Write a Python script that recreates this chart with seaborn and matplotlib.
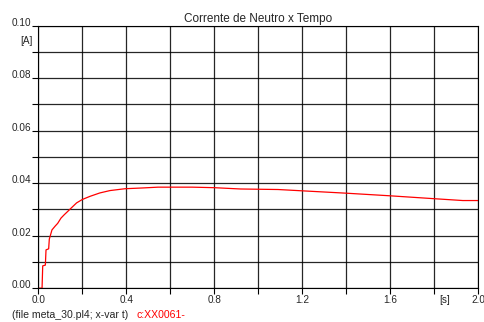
import matplotlib
matplotlib.use('Agg')
import matplotlib.pyplot as plt
import pandas as pd
import seaborn as sns

# tempo [s] e corrente de neutro [A]
tempo = [0.0, 0.017, 0.020, 0.032, 0.035, 0.047, 0.050, 0.062, 0.077, 0.088,
         0.103, 0.118, 0.133, 0.149, 0.174, 0.200, 0.235, 0.28, 0.326, 0.394,
         0.476, 0.544, 0.60, 0.70, 0.80, 0.92, 1.09, 1.20, 1.40, 1.60, 1.80, 1.93, 2.0]
corrente = [0.0, 0.0, 0.0085, 0.0088, 0.0146, 0.0150, 0.0187, 0.0222, 0.0237, 0.0247,
            0.0267, 0.0280, 0.0292, 0.0305, 0.0325, 0.0338, 0.0350, 0.0363, 0.0372, 0.0379,
            0.0382, 0.0385, 0.0385, 0.0385, 0.0383, 0.0378, 0.0376, 0.0371, 0.0362, 0.0352, 0.0341, 0.0334, 0.0334]

xticks = [0.0, 0.2, 0.4, 0.6, 0.8, 1.0, 1.2, 1.4, 1.6, 1.8, 2.0]
xlabels = ['0.0', '', '0.4', '', '0.8', '', '1.2', '', '1.6', '', '2.0']
yticks = [0.00, 0.01, 0.02, 0.03, 0.04, 0.05, 0.06, 0.07, 0.08, 0.09, 0.10]
ylabels = ['0.00', '', '0.02', '', '0.04', '', '0.06', '', '0.08', '', '0.10']

sns.set_style('white')
plt.rcParams['font.family'] = ['Liberation Sans', 'DejaVu Sans']

df = pd.DataFrame({'t': tempo, 'i': corrente})

fig = plt.figure(figsize=(4.85, 3.22), dpi=100)
ax = fig.add_axes([0.079, 0.105, 0.907, 0.815])
sns.lineplot(data=df, x='t', y='i', ax=ax, color='red', linewidth=0.9, sort=False)

ax.set_xlim(0, 2.0)
ax.set_ylim(0, 0.10)
ax.set_xticks(xticks)
ax.set_xticklabels(xlabels)
ax.set_yticks(yticks)
ax.set_yticklabels(ylabels)
ax.grid(True, color='black', linewidth=0.9, alpha=0.85)
ax.tick_params(axis='both', direction='out', length=4, width=0.8, color='black',
               labelsize=7.2, pad=1, left=True, bottom=True)
for lbl in ax.get_yticklabels():
    lbl.set_va('baseline')
for sp in ax.spines.values():
    sp.set_color('black')
    sp.set_linewidth(0.8)
ax.set_xlabel('')
ax.set_ylabel('')

ax.set_title('Corrente de Neutro x Tempo', fontsize=8.5, pad=3)
fig.text(26 / 485, 1 - 41 / 322, '[A]', fontsize=7.2, ha='center', va='center')
fig.text(445 / 485, 1 - 300 / 322, '[s]', fontsize=7.2, ha='center', va='center')
fig.text(12 / 485, 1 - 315 / 322, '(file meta_30.pl4; x-var t)', fontsize=7.6, ha='left', va='center')
fig.text(137 / 485, 1 - 315 / 322, 'c:XX0061-', fontsize=7.6, ha='left', va='center', color='red')

fig.savefig('out.png', dpi=100)
